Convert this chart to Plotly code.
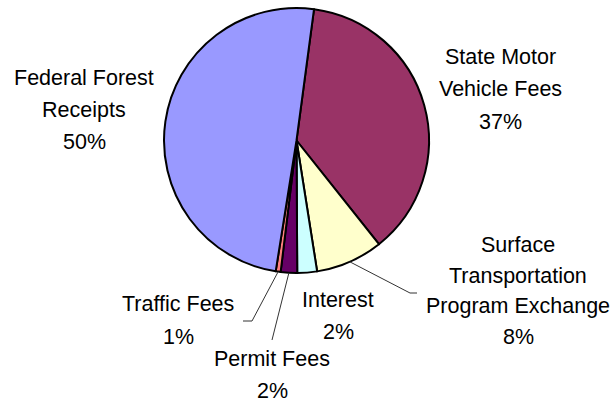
import math

import plotly.graph_objects as go

# -- Data --------------------------------------------------------------------

categories = [
    "State Motor Vehicle Fees",
    "Surface Transportation Program Exchange",
    "Interest",
    "Permit Fees",
    "Traffic Fees",
    "Federal Forest Receipts",
]
shares = [37.2, 8.2, 2.4, 2.0, 0.6, 49.6]
label_lines = [
    ["State Motor", "Vehicle Fees", "37%"],
    ["Surface", "Transportation", "Program Exchange", "8%"],
    ["Interest", "2%"],
    ["Permit Fees", "2%"],
    ["Traffic Fees", "1%"],
    ["Federal Forest", "Receipts", "50%"],
]
colors = ["#993366", "#FFFFCC", "#CCFFFF", "#660066", "#FF8080", "#9999FF"]

# -- Layout helpers ----------------------------------------------------------

W, H = 616, 402
CX, CY, R = 296.5, 140.5, 132.5
START = 7.6  # degrees clockwise from 12 o'clock


def px(x):
    return x / W


def py(y):
    return 1 - y / H


fig = go.Figure(go.Pie(
    labels=categories,
    values=shares,
    sort=False,
    direction="clockwise",
    rotation=START,
    marker=dict(colors=colors, line=dict(color="black", width=2)),
    textinfo="none",
    hoverinfo="label+percent",
    domain=dict(x=[px(CX - R), px(CX + R)], y=[py(CY + R), py(CY - R)]),
))

# label placement (center x, first line y, line step) per slice
label_pos = [
    (500, 57, 32.5),
    (518, 245, 30.5),
    (338, 300, 32),
    (272, 359, 32),
    (178, 304, 33),
    (84, 78, 32),
]

annotations = []
for lines, (lx, ly, step) in zip(label_lines, label_pos):
    for k, line in enumerate(lines):
        annotations.append(dict(
            x=px(lx), y=py(ly + k * step), xref="paper", yref="paper",
            text=line, showarrow=False, xanchor="center", yanchor="middle",
            font=dict(family="Liberation Sans, Arial", size=21.5, color="black"),
        ))

# leader lines: from slice mid-angle on the rim to a bend then a short tick
total = sum(shares)
cum = 0.0
mids = []
for v in shares:
    mids.append(START + (cum + v / 2) / total * 360)
    cum += v

leaders = {
    1: [(410, 293), (417, 293)],
    3: [(272, 340)],
    4: [(252, 321), (243, 321)],
}

shapes = []
for idx, pts in leaders.items():
    a = math.radians(mids[idx])
    x0, y0 = CX + R * math.sin(a), CY - R * math.cos(a)
    path = f"M {px(x0)} {py(y0)}"
    for (x, y) in pts:
        path += f" L {px(x)} {py(y)}"
    shapes.append(dict(type="path", path=path, xref="paper", yref="paper",
                       line=dict(color="#333333", width=1)))

fig.update_layout(
    width=W, height=H,
    margin=dict(l=0, r=0, t=0, b=0),
    showlegend=False,
    paper_bgcolor="white",
    plot_bgcolor="white",
    annotations=annotations,
    shapes=shapes,
)

fig.write_html(
    "out.html",
    config={"displayModeBar": False},
    post_script="document.body.style.margin='0';",
)
